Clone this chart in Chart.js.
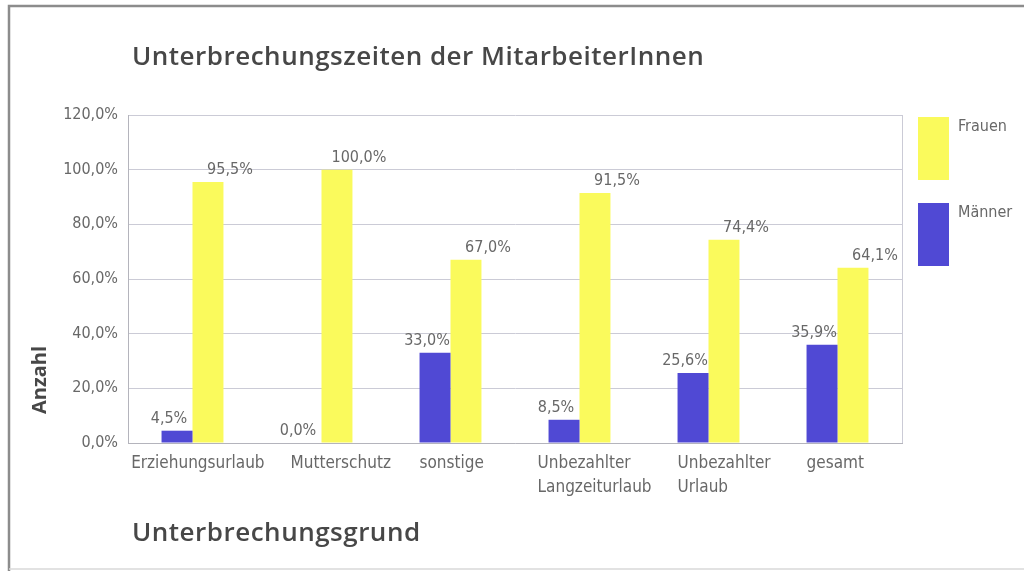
<!DOCTYPE html>
<html lang="de">
<head>
<meta charset="utf-8">
<title>Unterbrechungszeiten der MitarbeiterInnen</title>
<script src="https://cdn.jsdelivr.net/npm/chart.js@4.4.1/dist/chart.umd.min.js"></script>
<style>
    html, body { margin: 0; padding: 0; background: #fff; }
    #wrap { width: 1024px; height: 571px; position: relative; }
</style>
</head>
<body>
<div id="wrap"><canvas id="chart"></canvas></div>
<script>
// Daten
const categories = [
    'Erziehungsurlaub',
    'Mutterschutz',
    'sonstige',
    ['Unbezahlter', 'Langzeiturlaub'],
    ['Unbezahlter', 'Urlaub'],
    'gesamt'
];
const maenner = [4.5, 0.0, 33.0, 8.5, 25.6, 35.9];
const frauen = [95.5, 100.0, 67.0, 91.5, 74.4, 64.1];
const yTicks = [0, 20, 40, 60, 80, 100, 120];

const chartTitle = 'Unterbrechungszeiten der MitarbeiterInnen';
const yTitle = 'Anzahl';
const xTitle = 'Unterbrechungsgrund';

const blue = '#5049d4';
const yellow = '#fafa5c';
const gridColor = '#cbcbd6';
const textGray = '#686868';
const narrow = "'DejaVu Sans Condensed', 'Liberation Sans Narrow', sans-serif";
const heading = "'Open Sans', 'Noto Sans', sans-serif";

const pct = v => v.toFixed(1).replace('.', ',') + '%';

// Rahmen, Titel, Legende, Kategorien und Werte werden per Plugin gezeichnet
const decoPlugin = {
    id: 'deco',
    beforeDraw(chart) {
        const ctx = chart.ctx;
        ctx.save();
        ctx.fillStyle = '#fff';
        ctx.fillRect(0, 0, chart.width, chart.height);
        ctx.strokeStyle = '#8c8c8c';
        ctx.lineWidth = 2.5;
        ctx.beginPath();
        ctx.moveTo(chart.width, 6);
        ctx.lineTo(9, 6);
        ctx.lineTo(9, chart.height);
        ctx.stroke();
        ctx.strokeStyle = '#d8d8d8';
        ctx.lineWidth = 1.5;
        ctx.beginPath();
        ctx.moveTo(9, 569);
        ctx.lineTo(chart.width, 569);
        ctx.stroke();
        ctx.restore();
    },
    afterDraw(chart) {
        const ctx = chart.ctx;
        const area = chart.chartArea;
        ctx.save();

        // rechte Begrenzung der Zeichenfläche
        ctx.strokeStyle = gridColor;
        ctx.lineWidth = 1;
        ctx.beginPath();
        ctx.moveTo(area.right + 0.5, area.top);
        ctx.lineTo(area.right + 0.5, area.bottom);
        ctx.stroke();

        // Titel
        ctx.fillStyle = '#474747';
        ctx.font = '600 26px ' + heading;
        ctx.letterSpacing = '0.5px';
        ctx.textAlign = 'left';
        ctx.textBaseline = 'middle';
        ctx.fillText(chartTitle, area.left + 4, 58);
        ctx.fillText(xTitle, area.left + 4, 534);
        ctx.letterSpacing = '0px';

        // y-Achsentitel
        ctx.save();
        ctx.translate(40, 380);
        ctx.rotate(-Math.PI / 2);
        ctx.textAlign = 'center';
        ctx.font = '700 20px ' + heading;
        ctx.fillText(yTitle, 0, 0);
        ctx.restore();

        // Legende (Frauen oben)
        const order = [1, 0];
        order.forEach((di, i) => {
            const ds = chart.data.datasets[di];
            const x = area.right + 16;
            const y = area.top + 2 + i * 86;
            ctx.fillStyle = ds.backgroundColor;
            ctx.fillRect(x, y, 31, 63);
            ctx.fillStyle = textGray;
            ctx.font = '16px ' + narrow;
            ctx.textAlign = 'left';
            ctx.textBaseline = 'middle';
            ctx.fillText(ds.label, x + 40, y + 10);
        });

        // Kategorien, linksbündig an der Balkengruppe
        const first = chart.getDatasetMeta(0).data;
        ctx.font = '17px ' + narrow;
        ctx.fillStyle = textGray;
        ctx.textAlign = 'left';
        ctx.textBaseline = 'middle';
        const lefts = first.map(b => b.x - b.width / 2);
        categories.forEach((cat, i) => {
            const lines = Array.isArray(cat) ? cat : [cat];
            const w = Math.max(...lines.map(l => ctx.measureText(l).width));
            let left = lefts[i];
            if (i + 1 < lefts.length) left = Math.min(left, lefts[i + 1] - 26 - w);
            left = Math.max(left, area.left + 2);
            lines.forEach((l, j) => ctx.fillText(l, left, area.bottom + 21 + j * 24));
        });

        // Werte über den Balken
        ctx.font = '16px ' + narrow;
        ctx.textAlign = 'center';
        ctx.textBaseline = 'bottom';
        chart.data.datasets.forEach((ds, di) => {
            const meta = chart.getDatasetMeta(di);
            meta.data.forEach((bar, i) => {
                ctx.fillText(pct(ds.data[i]), bar.x + ds.labelShift, bar.y - 4);
            });
        });
        ctx.restore();
    }
};

const ctx = document.getElementById('chart').getContext('2d');

new Chart(ctx, {
    type: 'bar',
    data: {
        labels: categories,
        datasets: [{
            label: 'Männer',
            data: maenner,
            backgroundColor: blue,
            labelShift: -8
        }, {
            label: 'Frauen',
            data: frauen,
            backgroundColor: yellow,
            labelShift: 22
        }]
    },
    options: {
        responsive: true,
        maintainAspectRatio: false,
        animation: false,
        layout: {
            padding: { top: 115, right: 122, bottom: 0, left: 0 }
        },
        datasets: {
            bar: {
                categoryPercentage: 0.48,
                barPercentage: 1.0
            }
        },
        plugins: {
            legend: { display: false },
            title: { display: false },
            tooltip: { enabled: false }
        },
        scales: {
            x: {
                grid: { display: false },
                border: { display: true, color: '#b4b4bc' },
                afterFit: s => { s.height = 128; },
                ticks: { display: false }
            },
            y: {
                min: yTicks[0],
                max: yTicks[yTicks.length - 1],
                afterFit: s => { s.width = 128; },
                grid: { color: gridColor, drawTicks: false },
                border: { display: true, color: '#b4b4bc' },
                ticks: {
                    stepSize: yTicks[1] - yTicks[0],
                    padding: 10,
                    color: textGray,
                    font: { family: narrow, size: 16 },
                    callback: v => pct(v)
                }
            }
        }
    },
    plugins: [decoPlugin]
});
</script>
</body>
</html>
